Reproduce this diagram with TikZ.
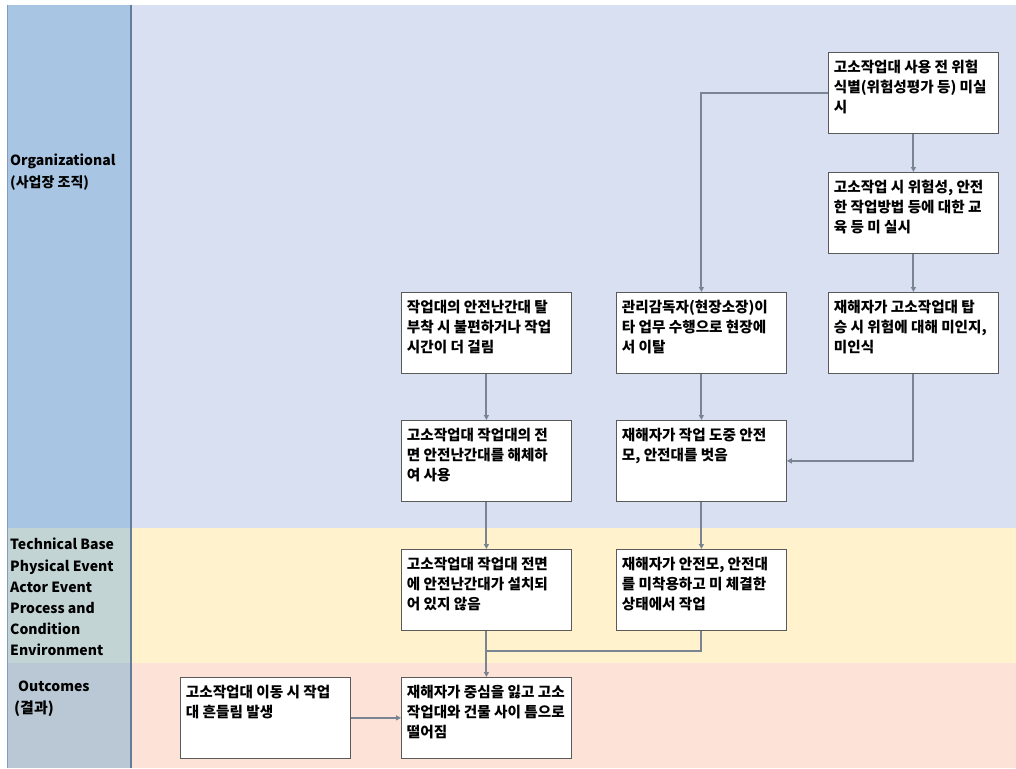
\documentclass[tikz,border=0pt]{standalone}
\usepackage{fontspec}
\setmainfont{Noto Sans CJK KR}
\usetikzlibrary{arrows.meta}
\definecolor{leftblue}{HTML}{A8C5E3}
\definecolor{mainblue}{HTML}{D9E0F2}
\definecolor{lefty}{HTML}{C3D4D5}
\definecolor{mainy}{HTML}{FFF2CC}
\definecolor{leftp}{HTML}{B9C8D4}
\definecolor{mainp}{HTML}{FDE2D8}
\definecolor{colline}{HTML}{7F9CC0}
\definecolor{conn}{HTML}{7A8592}
\definecolor{boxline}{HTML}{5A5A5A}
\newcommand{\boxtext}[1]{\parbox[c][70pt][t]{159pt}{\vspace*{2.5pt}\raggedright\fontsize{14.6}{20}\selectfont\bfseries #1}}
\tikzset{
  stepbox/.style={draw=boxline, line width=0.8pt, fill=white, anchor=north west,
    inner xsep=5.5pt, inner ysep=5.5pt},
  conline/.style={draw=conn, line width=2pt, -{Triangle[length=5pt,width=5pt]}},
  plainline/.style={draw=conn, line width=2pt},
  lanelabel/.style={anchor=north west, align=left, inner sep=0pt,
    font=\fontsize{14}{21.2}\selectfont\bfseries, text=black}
}
\begin{document}
\begin{tikzpicture}[x=1pt,y=-1pt]
\useasboundingbox (0,0) rectangle (1016,768);
\fill[white] (0,0) rectangle (1016,768);
% bands
\fill[mainblue] (131,5) rectangle (1016,528);
\fill[mainy] (131,528) rectangle (1016,663);
\fill[mainp] (131,663) rectangle (1016,768);
\fill[leftblue] (7,5) rectangle (131,528);
\fill[lefty] (7,528) rectangle (131,663);
\fill[leftp] (7,663) rectangle (131,768);
\draw[colline, line width=1.5pt] (7.5,5) -- (7.5,768);
\draw[colline!80!black, line width=2pt] (131,5) -- (131,768);
% lane labels
\node[lanelabel] (lorg) at (10,154) {Organizational\\(사업장 조직)};
\node[lanelabel] (ltech) at (10,538) {Technical Base\\Physical Event\\Actor Event\\Process and\\Condition\\Environment};
\node[lanelabel] (lout) at (14,681) {\hspace{4pt}Outcomes\\{\fontsize{15}{21.2}\selectfont(결과)}};
% boxes
\node[stepbox] (A) at (828,52) {\boxtext{고소작업대 사용 전 위험\\식별(위험성평가 등) 미실\\시}};
\node[stepbox] (B) at (828,172) {\boxtext{고소작업 시 위험성, 안전\\한 작업방법 등에 대한 교\\육 등 미 실시}};
\node[stepbox] (C) at (828,292) {\boxtext{재해자가 고소작업대 탑\\승 시 위험에 대해 미인지,\\미인식}};
\node[stepbox] (D) at (401,292) {\boxtext{작업대의 안전난간대 탈\\부착 시 불편하거나 작업\\시간이 더 걸림}};
\node[stepbox] (E) at (616,292) {\boxtext{관리감독자(현장소장)이\\타 업무 수행으로 현장에\\서 이탈}};
\node[stepbox] (F) at (401,420) {\boxtext{고소작업대 작업대의 전\\면 안전난간대를 해체하\\여 사용}};
\node[stepbox] (G) at (616,420) {\boxtext{재해자가 작업 도중 안전\\모, 안전대를 벗음}};
\node[stepbox] (H) at (401,549) {\boxtext{고소작업대 작업대 전면\\에 안전난간대가 설치되\\어 있지 않음}};
\node[stepbox] (I) at (616,549) {\boxtext{재해자가 안전모, 안전대\\를 미착용하고 미 체결한\\상태에서 작업}};
\node[stepbox] (J) at (180,677) {\boxtext{고소작업대 이동 시 작업\\대 흔들림 발생}};
\node[stepbox] (K) at (401,677) {\boxtext{재해자가 중심을 잃고 고소\\작업대와 건물 사이 틈으로\\떨어짐}};
% connectors
\draw[conline] (A.west) -| (E.north);
\draw[conline] (A.south) -- (B.north);
\draw[conline] (B.south) -- (C.north);
\draw[conline] (C.south) |- (G.east);
\draw[conline] (D.south) -- (F.north);
\draw[conline] (E.south) -- (G.north);
\draw[conline] (F.south) -- (H.north);
\draw[conline] (G.south) -- (I.north);
\draw[conline] (H.south) -- (K.north);
\path (K.north) ++(0,-26) coordinate (j);
\draw[plainline] (I.south) |- (j);
\draw[conline] (J.east) -- (K.west);
\end{tikzpicture}
\end{document}
